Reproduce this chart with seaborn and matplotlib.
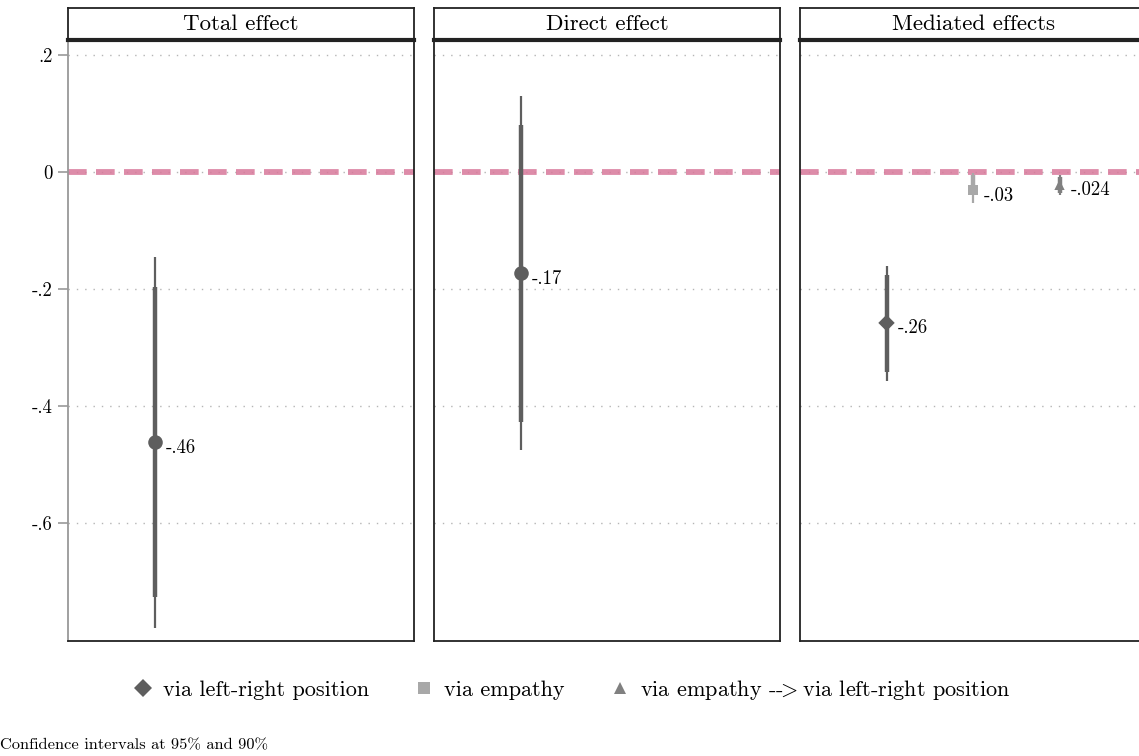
import pandas as pd
import matplotlib
matplotlib.use("Agg")
import matplotlib.pyplot as plt
from matplotlib.lines import Line2D
import seaborn as sns

# ── Data ─────────────────────────────────────────────────────────────────────
PANELS = ["Total effect", "Direct effect", "Mediated effects"]
PANEL = ["Total effect", "Direct effect",
         "Mediated effects", "Mediated effects", "Mediated effects"]
PATH = ["total", "direct", "via left-right position", "via empathy",
        "via empathy --> via left-right position"]
SLOT = [1, 1, 1, 2, 3]
ESTIMATE = [-0.462, -0.173, -0.258, -0.031, -0.022]
LO95 = [-0.779, -0.475, -0.357, -0.053, -0.040]
HI95 = [-0.145, 0.130, -0.161, -0.002, -0.005]
LO90 = [-0.726, -0.427, -0.342, -0.039, -0.036]
HI90 = [-0.197, 0.080, -0.176, -0.005, -0.009]
POINT_LABELS = ["-.46", "-.17", "-.26", "-.03", "-.024"]
YTICKS = [0.2, 0.0, -0.2, -0.4, -0.6]
YTICKLABELS = [".2", "0", "-.2", "-.4", "-.6"]
LEGEND_PATHS = PATH[2:]

# ── Styles ───────────────────────────────────────────────────────────────────
COLORS = {
    "total": "#5e5e5e",
    "direct": "#5e5e5e",
    "via left-right position": "#5e5e5e",
    "via empathy": "#a8a8a8",
    "via empathy --> via left-right position": "#808080",
}
MARKERS = {
    "total": "o",
    "direct": "o",
    "via left-right position": "D",
    "via empathy": "s",
    "via empathy --> via left-right position": "^",
}
SIZES = {
    "total": 110,
    "direct": 110,
    "via left-right position": 70,
    "via empathy": 60,
    "via empathy --> via left-right position": 55,
}
ZERO_COLOR = "#d8789a"
GRID_COLOR = "#b5b5b5"

df = pd.DataFrame({
    "panel": PANEL, "path": PATH, "slot": SLOT, "estimate": ESTIMATE,
    "lo95": LO95, "hi95": HI95, "lo90": LO90, "hi90": HI90,
    "label": POINT_LABELS,
})

sns.set_theme(style="white")
plt.rcParams["font.family"] = ["cmr10", "DejaVu Serif"]
plt.rcParams["axes.unicode_minus"] = False
plt.rcParams["mathtext.fontset"] = "cm"
plt.rcParams["text.color"] = "black"
plt.rcParams["ytick.color"] = "black"

W, H = 1139, 756
fig = plt.figure(figsize=(W / 100, H / 100), dpi=100)


def fx(px):
    return px / W


def fy(py):
    return 1 - py / H


def tex_safe(s):
    # cmr10 has no ">" glyph at its ASCII slot, so render it via mathtext
    # (negative spaces cancel the relation spacing)
    return s.replace(">", r"$\!\!>\!\!$")


panel_left = [68, 434, 800]
panel_w = 346
top, bottom, strip_top = 40, 641, 8

for i, (name, left) in enumerate(zip(PANELS, panel_left)):
    ax = fig.add_axes([fx(left), fy(bottom), fx(panel_w), (bottom - top) / H])
    sub = df[df["panel"] == name]

    for y in YTICKS:
        ax.axhline(y, color=GRID_COLOR, lw=1.0, ls=(0, (1, 5)), zorder=0)
    ax.axhline(0, color=ZERO_COLOR, lw=4.2, ls=(0, (3.2, 1.6)),
               alpha=0.85, zorder=1)

    ax.vlines(sub["slot"], sub["lo95"], sub["hi95"],
              colors=[COLORS[p] for p in sub["path"]], lw=1.6, zorder=2)
    ax.vlines(sub["slot"], sub["lo90"], sub["hi90"],
              colors=[COLORS[p] for p in sub["path"]], lw=3.2, zorder=3)
    sns.scatterplot(data=sub, x="slot", y="estimate", hue="path",
                    style="path", size="path", palette=COLORS,
                    markers=MARKERS, sizes=SIZES, linewidth=0,
                    legend=False, zorder=4, ax=ax)
    for _, r in sub.iterrows():
        ax.annotate(r["label"], (r["slot"], r["estimate"]),
                    xytext=(8, -4), textcoords="offset points",
                    ha="left", va="center", fontsize=13.5, color="black")

    ax.set_xlim(0, 4)
    ax.set_ylim(-0.8017, 0.2256)
    ax.set_xlabel("")
    ax.set_ylabel("")
    ax.set_xticks([])
    ax.set_yticks(YTICKS)
    if i == 0:
        ax.set_yticklabels(YTICKLABELS, fontsize=13.5)
        ax.tick_params(axis="y", length=7, width=1.2, color="#999999",
                       labelcolor="black", pad=4, left=True)
    else:
        ax.set_yticklabels([])
        ax.tick_params(axis="y", length=0)
    for side, sp in ax.spines.items():
        sp.set_visible(True)
        sp.set_color("#222222")
        sp.set_linewidth(1.3)
    if i == 0:
        ax.spines["left"].set_color("#999999")
    ax.set_facecolor("white")

    # title strip
    st = fig.add_axes([fx(left), fy(top), fx(panel_w), (top - strip_top) / H])
    st.set_xticks([])
    st.set_yticks([])
    for sp in st.spines.values():
        sp.set_visible(True)
        sp.set_color("#222222")
        sp.set_linewidth(1.3)
    st.spines["bottom"].set_linewidth(3.0)
    st.text(0.5, 0.5, name, ha="center", va="center", fontsize=16.5,
            transform=st.transAxes)

handles = [
    Line2D([], [], ls="none", marker=MARKERS[p], color=COLORS[p],
           markersize=9 if MARKERS[p] == "D" else 8, markeredgewidth=0)
    for p in LEGEND_PATHS
]
fig.legend(handles, [tex_safe(p) for p in LEGEND_PATHS], loc="center",
           ncol=3, frameon=False, bbox_to_anchor=(fx(571), fy(690)),
           fontsize=16, handletextpad=0.4, columnspacing=2.0,
           handlelength=1.0)

fig.text(fx(0), fy(745), "Confidence intervals at 95% and 90%",
         ha="left", va="center", fontsize=11.8)

fig.savefig("out.png", dpi=100)
